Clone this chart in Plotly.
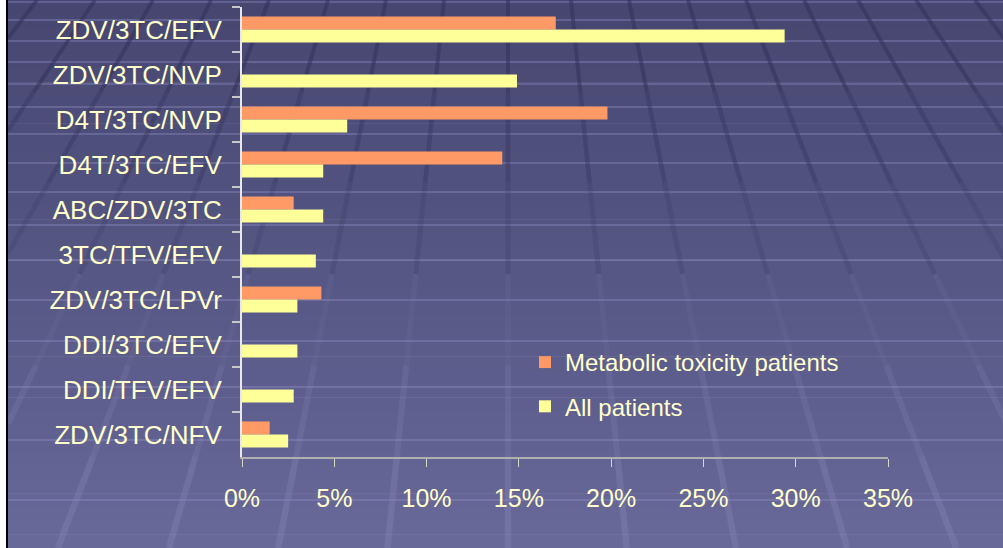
import plotly.graph_objects as go

categories = ["ZDV/3TC/EFV", "ZDV/3TC/NVP", "D4T/3TC/NVP", "D4T/3TC/EFV", "ABC/ZDV/3TC",
              "3TC/TFV/EFV", "ZDV/3TC/LPVr", "DDI/3TC/EFV", "DDI/TFV/EFV", "ZDV/3TC/NFV"]
metabolic = [17.0, 0.0, 19.8, 14.1, 2.8, 0.0, 4.3, 0.0, 0.0, 1.5]
all_patients = [29.4, 14.9, 5.7, 4.4, 4.4, 4.0, 3.0, 3.0, 2.8, 2.5]
tick_vals = [0, 5, 10, 15, 20, 25, 30, 35]
tick_text = ["0%", "5%", "10%", "15%", "20%", "25%", "30%", "35%"]

W, H = 1003, 548
L, R, T, B = 242, 115, 7, 91
PW, PH = W - L - R, H - T - B
FONT = "Arial, 'Liberation Sans', sans-serif"
TXT = "#FFFFCC"
BX = 8  # left edge of the slide background


def px(x):
    return (x - L) / PW


def py(y):
    return (H - B - y) / PH


def lerp(c1, c2, t):
    return "rgb(%d,%d,%d)" % tuple(round(a + (b - a) * t) for a, b in zip(c1, c2))


shapes = []
top_c, bot_c = (70, 70, 112), (104, 104, 154)
n = 40
for i in range(n):
    y0 = H * i / n
    y1 = H * (i + 1) / n + 0.5
    shapes.append(dict(type="rect", xref="paper", yref="paper", layer="below",
                       x0=px(BX), x1=px(W + 2), y0=py(y1), y1=py(y0),
                       fillcolor=lerp(top_c, bot_c, (i + 0.5) / n), line_width=0))
# faint horizontal stripes of the floor grid
for yy in [2, 20, 41, 62, 84, 107, 134, 163, 192, 225, 260, 300, 341, 387, 440, 500]:
    shapes.append(dict(type="line", xref="paper", yref="paper", layer="below",
                       x0=px(BX), x1=px(W), y0=py(yy), y1=py(yy),
                       line=dict(color="rgba(150,150,205,0.35)", width=2)))
# perspective lines of the floor grid, split into segments (dark at top, light at bottom)
vx, vy = 508, -620
tops = [-195, -137, -79, -21, 37, 95, 153, 211, 269, 328, 386, 444, 508, 571, 629, 688,
        746, 804, 858, 916, 975]
segs = 6
for x0 in tops:
    for s in range(segs):
        ya, yb = H * s / segs, H * (s + 1) / segs
        xa = vx + (x0 - vx) * (ya - vy) / (-vy)
        xb = vx + (x0 - vx) * (yb - vy) / (-vy)
        if max(xa, xb) < BX or min(xa, xb) > W:
            continue
        if xa < BX or xb < BX:
            t = (BX - xa) / (xb - xa)
            yc = ya + (yb - ya) * t
            if xa < BX:
                xa, ya = BX, yc
            else:
                xb, yb = BX, yc
        t = s / (segs - 1)
        if t < 0.5:
            col = "rgba(50,50,90,%.2f)" % (0.45 * (1 - 2 * t) + 0.1)
        else:
            col = "rgba(140,140,190,%.2f)" % (0.25 * (2 * t - 1) + 0.05)
        shapes.append(dict(type="line", xref="paper", yref="paper", layer="below",
                           x0=px(xa), x1=px(xb), y0=py(ya), y1=py(yb),
                           line=dict(color=col, width=4 + s * 0.5)))
# left border
shapes.append(dict(type="line", xref="paper", yref="paper", layer="below",
                   x0=px(7), x1=px(7), y0=py(0), y1=py(H),
                   line=dict(color="black", width=2)))

fig = go.Figure()
fig.add_trace(go.Bar(y=categories, x=metabolic, orientation="h",
                     name="Metabolic toxicity patients",
                     marker=dict(color="#FF9966", line_width=0), legendgroup="a"))
fig.add_trace(go.Bar(y=categories, x=all_patients, orientation="h",
                     name="All patients",
                     marker=dict(color="#FFFF99", line_width=0), legendgroup="b"))

fig.update_layout(
    width=W, height=H,
    margin=dict(l=L, r=R, t=T, b=B, pad=0),
    paper_bgcolor="white", plot_bgcolor="rgba(0,0,0,0)",
    barmode="group", bargap=0.42, bargroupgap=0,
    shapes=shapes,
    showlegend=True,
    legend=dict(x=px(525), y=py(340), xanchor="left", yanchor="top",
                bgcolor="rgba(0,0,0,0)", font=dict(family=FONT, size=24, color=TXT),
                tracegroupgap=10, itemwidth=30),
    font=dict(family=FONT, color=TXT),
)
fig.update_xaxes(range=[0, 35], tickvals=tick_vals, ticktext=tick_text,
                 showgrid=False, zeroline=False, showline=True, linecolor="#B0B0B0",
                 linewidth=2, ticks="outside", ticklen=8, tickcolor="#D8D8C0", tickwidth=1,
                 tickfont=dict(family=FONT, size=25, color=TXT), ticklabelstandoff=10,
                 fixedrange=True)
fig.update_yaxes(categoryorder="array", categoryarray=categories, autorange="reversed",
                 showgrid=False, zeroline=False, showline=True, linecolor="#E8E8E8",
                 linewidth=2, ticks="outside", ticklen=8, tickcolor="#C8C8C8", tickwidth=2,
                 tickson="boundaries", tickfont=dict(family=FONT, size=26, color=TXT),
                 ticklabelstandoff=13, fixedrange=True)

fig.write_html("out.html", config={"displayModeBar": False},
               post_script="document.body.style.margin='0px';")
